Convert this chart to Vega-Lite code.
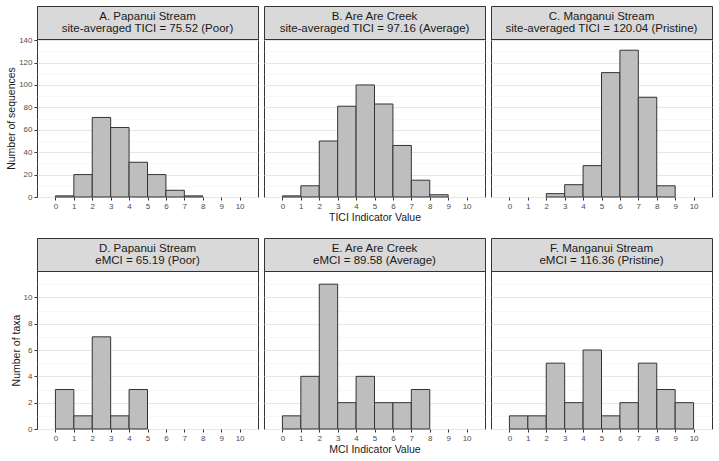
{
  "$schema": "https://vega.github.io/schema/vega-lite/v6.json",
  "background": "white",
  "padding": {"left": 6, "top": 5, "right": 10, "bottom": 2},
  "datasets": {
    "tici": [
      {"panel": "A", "bin_start": 0, "bin_end": 1, "count": 1},
      {"panel": "A", "bin_start": 1, "bin_end": 2, "count": 20},
      {"panel": "A", "bin_start": 2, "bin_end": 3, "count": 71},
      {"panel": "A", "bin_start": 3, "bin_end": 4, "count": 62},
      {"panel": "A", "bin_start": 4, "bin_end": 5, "count": 31},
      {"panel": "A", "bin_start": 5, "bin_end": 6, "count": 20},
      {"panel": "A", "bin_start": 6, "bin_end": 7, "count": 6},
      {"panel": "A", "bin_start": 7, "bin_end": 8, "count": 1},
      {"panel": "B", "bin_start": 0, "bin_end": 1, "count": 1},
      {"panel": "B", "bin_start": 1, "bin_end": 2, "count": 10},
      {"panel": "B", "bin_start": 2, "bin_end": 3, "count": 50},
      {"panel": "B", "bin_start": 3, "bin_end": 4, "count": 81},
      {"panel": "B", "bin_start": 4, "bin_end": 5, "count": 100},
      {"panel": "B", "bin_start": 5, "bin_end": 6, "count": 83},
      {"panel": "B", "bin_start": 6, "bin_end": 7, "count": 46},
      {"panel": "B", "bin_start": 7, "bin_end": 8, "count": 15},
      {"panel": "B", "bin_start": 8, "bin_end": 9, "count": 2},
      {"panel": "C", "bin_start": 2, "bin_end": 3, "count": 3},
      {"panel": "C", "bin_start": 3, "bin_end": 4, "count": 11},
      {"panel": "C", "bin_start": 4, "bin_end": 5, "count": 28},
      {"panel": "C", "bin_start": 5, "bin_end": 6, "count": 111},
      {"panel": "C", "bin_start": 6, "bin_end": 7, "count": 131},
      {"panel": "C", "bin_start": 7, "bin_end": 8, "count": 89},
      {"panel": "C", "bin_start": 8, "bin_end": 9, "count": 10}
    ],
    "mci": [
      {"panel": "D", "bin_start": 0, "bin_end": 1, "count": 3},
      {"panel": "D", "bin_start": 1, "bin_end": 2, "count": 1},
      {"panel": "D", "bin_start": 2, "bin_end": 3, "count": 7},
      {"panel": "D", "bin_start": 3, "bin_end": 4, "count": 1},
      {"panel": "D", "bin_start": 4, "bin_end": 5, "count": 3},
      {"panel": "E", "bin_start": 0, "bin_end": 1, "count": 1},
      {"panel": "E", "bin_start": 1, "bin_end": 2, "count": 4},
      {"panel": "E", "bin_start": 2, "bin_end": 3, "count": 11},
      {"panel": "E", "bin_start": 3, "bin_end": 4, "count": 2},
      {"panel": "E", "bin_start": 4, "bin_end": 5, "count": 4},
      {"panel": "E", "bin_start": 5, "bin_end": 6, "count": 2},
      {"panel": "E", "bin_start": 6, "bin_end": 7, "count": 2},
      {"panel": "E", "bin_start": 7, "bin_end": 8, "count": 3},
      {"panel": "F", "bin_start": 0, "bin_end": 1, "count": 1},
      {"panel": "F", "bin_start": 1, "bin_end": 2, "count": 1},
      {"panel": "F", "bin_start": 2, "bin_end": 3, "count": 5},
      {"panel": "F", "bin_start": 3, "bin_end": 4, "count": 2},
      {"panel": "F", "bin_start": 4, "bin_end": 5, "count": 6},
      {"panel": "F", "bin_start": 5, "bin_end": 6, "count": 1},
      {"panel": "F", "bin_start": 6, "bin_end": 7, "count": 2},
      {"panel": "F", "bin_start": 7, "bin_end": 8, "count": 5},
      {"panel": "F", "bin_start": 8, "bin_end": 9, "count": 3},
      {"panel": "F", "bin_start": 9, "bin_end": 10, "count": 2}
    ],
    "strips": [
      {"panel": "A", "label": "A. Papanui Stream\nsite-averaged TICI = 75.52 (Poor)"},
      {"panel": "B", "label": "B. Are Are Creek\nsite-averaged TICI = 97.16 (Average)"},
      {"panel": "C", "label": "C. Manganui Stream\nsite-averaged TICI = 120.04 (Pristine)"},
      {"panel": "D", "label": "D. Papanui Stream\neMCI = 65.19 (Poor)"},
      {"panel": "E", "label": "E. Are Are Creek\neMCI = 89.58 (Average)"},
      {"panel": "F", "label": "F. Manganui Stream\neMCI = 116.36 (Pristine)"}
    ]
  },
  "config": {
    "font": "Liberation Sans",
    "axis": {
      "labelColor": "#4d4d4d",
      "labelFontSize": 8,
      "labelPadding": 2,
      "tickColor": "#333333",
      "tickSize": 3,
      "titleFontSize": 10.5,
      "titleFontWeight": "normal",
      "titleColor": "#1a1a1a",
      "titlePadding": 2,
      "domain": false
    },
    "text": {"fontSize": 11.5, "lineHeight": 12.5, "color": "#1a1a1a", "baseline": "middle", "dy": -6},
    "concat": {"spacing": 4}
  },
  "vconcat": [
    {
      "hconcat": [
        {
          "bounds": "flush",
          "vconcat": [
            {
              "width": 221, "height": 33,
              "view": {"fill": "#d9d9d9", "stroke": "#333333"},
              "data": {"name": "strips"},
              "transform": [{"filter": "datum.panel === 'A'"}],
              "mark": {"type": "text", "lineBreak": "\n"},
              "encoding": {"text": {"field": "label"}}
            },
            {
              "width": 221, "height": 158,
              "view": {"stroke": "#333333"},
              "data": {"name": "tici"},
              "transform": [{"filter": "datum.panel === 'A'"}],
              "mark": {"type": "bar", "fill": "#bebebe", "stroke": "#333333", "strokeWidth": 1},
              "encoding": {
                "x": {"field": "bin_start", "type": "quantitative", "scale": {"domain": [-1, 11], "nice": false, "zero": false},
                      "axis": {"values": [0,1,2,3,4,5,6,7,8,9,10], "grid": false, "title": null}},
                "x2": {"field": "bin_end"},
                "y": {"field": "count", "type": "quantitative", "scale": {"domain": [0, 141], "nice": false},
                      "axis": {"title": "Number of sequences", "values": [0,10,20,30,40,50,60,70,80,90,100,110,120,130,140],
                               "labelExpr": "datum.value % 20 === 0 ? datum.label : ''",
                               "tickOpacity": {"condition": {"test": "datum.value % 20 !== 0", "value": 0}, "value": 1},
                               "gridColor": {"condition": {"test": "datum.value % 20 !== 0", "value": "#f2f2f2"}, "value": "#e6e6e6"},
                               "gridWidth": {"condition": {"test": "datum.value % 20 !== 0", "value": 0.6}, "value": 1}}},
                "y2": {"datum": 0}
              }
            }
          ],
          "spacing": 0
        },
        {
          "bounds": "flush",
          "vconcat": [
            {
              "width": 221, "height": 33,
              "view": {"fill": "#d9d9d9", "stroke": "#333333"},
              "data": {"name": "strips"},
              "transform": [{"filter": "datum.panel === 'B'"}],
              "mark": {"type": "text", "lineBreak": "\n"},
              "encoding": {"text": {"field": "label"}}
            },
            {
              "width": 221, "height": 158,
              "view": {"stroke": "#333333"},
              "data": {"name": "tici"},
              "transform": [{"filter": "datum.panel === 'B'"}],
              "mark": {"type": "bar", "fill": "#bebebe", "stroke": "#333333", "strokeWidth": 1},
              "encoding": {
                "x": {"field": "bin_start", "type": "quantitative", "scale": {"domain": [-1, 11], "nice": false, "zero": false},
                      "axis": {"values": [0,1,2,3,4,5,6,7,8,9,10], "grid": false, "title": "TICI Indicator Value"}},
                "x2": {"field": "bin_end"},
                "y": {"field": "count", "type": "quantitative", "scale": {"domain": [0, 141], "nice": false},
                      "axis": {"title": null, "labels": false, "ticks": false, "minExtent": 0,
                               "values": [0,10,20,30,40,50,60,70,80,90,100,110,120,130,140],
                               "gridColor": {"condition": {"test": "datum.value % 20 !== 0", "value": "#f2f2f2"}, "value": "#e6e6e6"},
                               "gridWidth": {"condition": {"test": "datum.value % 20 !== 0", "value": 0.6}, "value": 1}}},
                "y2": {"datum": 0}
              }
            }
          ],
          "spacing": 0
        },
        {
          "bounds": "flush",
          "vconcat": [
            {
              "width": 221, "height": 33,
              "view": {"fill": "#d9d9d9", "stroke": "#333333"},
              "data": {"name": "strips"},
              "transform": [{"filter": "datum.panel === 'C'"}],
              "mark": {"type": "text", "lineBreak": "\n"},
              "encoding": {"text": {"field": "label"}}
            },
            {
              "width": 221, "height": 158,
              "view": {"stroke": "#333333"},
              "data": {"name": "tici"},
              "transform": [{"filter": "datum.panel === 'C'"}],
              "mark": {"type": "bar", "fill": "#bebebe", "stroke": "#333333", "strokeWidth": 1},
              "encoding": {
                "x": {"field": "bin_start", "type": "quantitative", "scale": {"domain": [-1, 11], "nice": false, "zero": false},
                      "axis": {"values": [0,1,2,3,4,5,6,7,8,9,10], "grid": false, "title": null}},
                "x2": {"field": "bin_end"},
                "y": {"field": "count", "type": "quantitative", "scale": {"domain": [0, 141], "nice": false},
                      "axis": {"title": null, "labels": false, "ticks": false, "minExtent": 0,
                               "values": [0,10,20,30,40,50,60,70,80,90,100,110,120,130,140],
                               "gridColor": {"condition": {"test": "datum.value % 20 !== 0", "value": "#f2f2f2"}, "value": "#e6e6e6"},
                               "gridWidth": {"condition": {"test": "datum.value % 20 !== 0", "value": 0.6}, "value": 1}}},
                "y2": {"datum": 0}
              }
            }
          ],
          "spacing": 0
        }
      ],
      "spacing": 4
    },
    {
      "hconcat": [
        {
          "bounds": "flush",
          "vconcat": [
            {
              "width": 221, "height": 33,
              "view": {"fill": "#d9d9d9", "stroke": "#333333"},
              "data": {"name": "strips"},
              "transform": [{"filter": "datum.panel === 'D'"}],
              "mark": {"type": "text", "lineBreak": "\n"},
              "encoding": {"text": {"field": "label"}}
            },
            {
              "width": 221, "height": 158,
              "view": {"stroke": "#333333"},
              "data": {"name": "mci"},
              "transform": [{"filter": "datum.panel === 'D'"}],
              "mark": {"type": "bar", "fill": "#bebebe", "stroke": "#333333", "strokeWidth": 1},
              "encoding": {
                "x": {"field": "bin_start", "type": "quantitative", "scale": {"domain": [-1, 11], "nice": false, "zero": false},
                      "axis": {"values": [0,1,2,3,4,5,6,7,8,9,10], "grid": false, "title": null}},
                "x2": {"field": "bin_end"},
                "y": {"field": "count", "type": "quantitative", "scale": {"domain": [0, 12], "nice": false},
                      "axis": {"title": "Number of taxa", "values": [0,1,2,3,4,5,6,7,8,9,10,11],
                               "labelExpr": "datum.value % 2 === 0 ? datum.label : ''",
                               "tickOpacity": {"condition": {"test": "datum.value % 2 !== 0", "value": 0}, "value": 1},
                               "gridColor": {"condition": {"test": "datum.value % 2 !== 0", "value": "#f2f2f2"}, "value": "#e6e6e6"},
                               "gridWidth": {"condition": {"test": "datum.value % 2 !== 0", "value": 0.6}, "value": 1}}},
                "y2": {"datum": 0}
              }
            }
          ],
          "spacing": 0
        },
        {
          "bounds": "flush",
          "vconcat": [
            {
              "width": 221, "height": 33,
              "view": {"fill": "#d9d9d9", "stroke": "#333333"},
              "data": {"name": "strips"},
              "transform": [{"filter": "datum.panel === 'E'"}],
              "mark": {"type": "text", "lineBreak": "\n"},
              "encoding": {"text": {"field": "label"}}
            },
            {
              "width": 221, "height": 158,
              "view": {"stroke": "#333333"},
              "data": {"name": "mci"},
              "transform": [{"filter": "datum.panel === 'E'"}],
              "mark": {"type": "bar", "fill": "#bebebe", "stroke": "#333333", "strokeWidth": 1},
              "encoding": {
                "x": {"field": "bin_start", "type": "quantitative", "scale": {"domain": [-1, 11], "nice": false, "zero": false},
                      "axis": {"values": [0,1,2,3,4,5,6,7,8,9,10], "grid": false, "title": "MCI Indicator Value"}},
                "x2": {"field": "bin_end"},
                "y": {"field": "count", "type": "quantitative", "scale": {"domain": [0, 12], "nice": false},
                      "axis": {"title": null, "labels": false, "ticks": false, "minExtent": 0,
                               "values": [0,1,2,3,4,5,6,7,8,9,10,11],
                               "gridColor": {"condition": {"test": "datum.value % 2 !== 0", "value": "#f2f2f2"}, "value": "#e6e6e6"},
                               "gridWidth": {"condition": {"test": "datum.value % 2 !== 0", "value": 0.6}, "value": 1}}},
                "y2": {"datum": 0}
              }
            }
          ],
          "spacing": 0
        },
        {
          "bounds": "flush",
          "vconcat": [
            {
              "width": 221, "height": 33,
              "view": {"fill": "#d9d9d9", "stroke": "#333333"},
              "data": {"name": "strips"},
              "transform": [{"filter": "datum.panel === 'F'"}],
              "mark": {"type": "text", "lineBreak": "\n"},
              "encoding": {"text": {"field": "label"}}
            },
            {
              "width": 221, "height": 158,
              "view": {"stroke": "#333333"},
              "data": {"name": "mci"},
              "transform": [{"filter": "datum.panel === 'F'"}],
              "mark": {"type": "bar", "fill": "#bebebe", "stroke": "#333333", "strokeWidth": 1},
              "encoding": {
                "x": {"field": "bin_start", "type": "quantitative", "scale": {"domain": [-1, 11], "nice": false, "zero": false},
                      "axis": {"values": [0,1,2,3,4,5,6,7,8,9,10], "grid": false, "title": null}},
                "x2": {"field": "bin_end"},
                "y": {"field": "count", "type": "quantitative", "scale": {"domain": [0, 12], "nice": false},
                      "axis": {"title": null, "labels": false, "ticks": false, "minExtent": 0,
                               "values": [0,1,2,3,4,5,6,7,8,9,10,11],
                               "gridColor": {"condition": {"test": "datum.value % 2 !== 0", "value": "#f2f2f2"}, "value": "#e6e6e6"},
                               "gridWidth": {"condition": {"test": "datum.value % 2 !== 0", "value": 0.6}, "value": 1}}},
                "y2": {"datum": 0}
              }
            }
          ],
          "spacing": 0
        }
      ],
      "spacing": 4
    }
  ],
  "spacing": 14
}
